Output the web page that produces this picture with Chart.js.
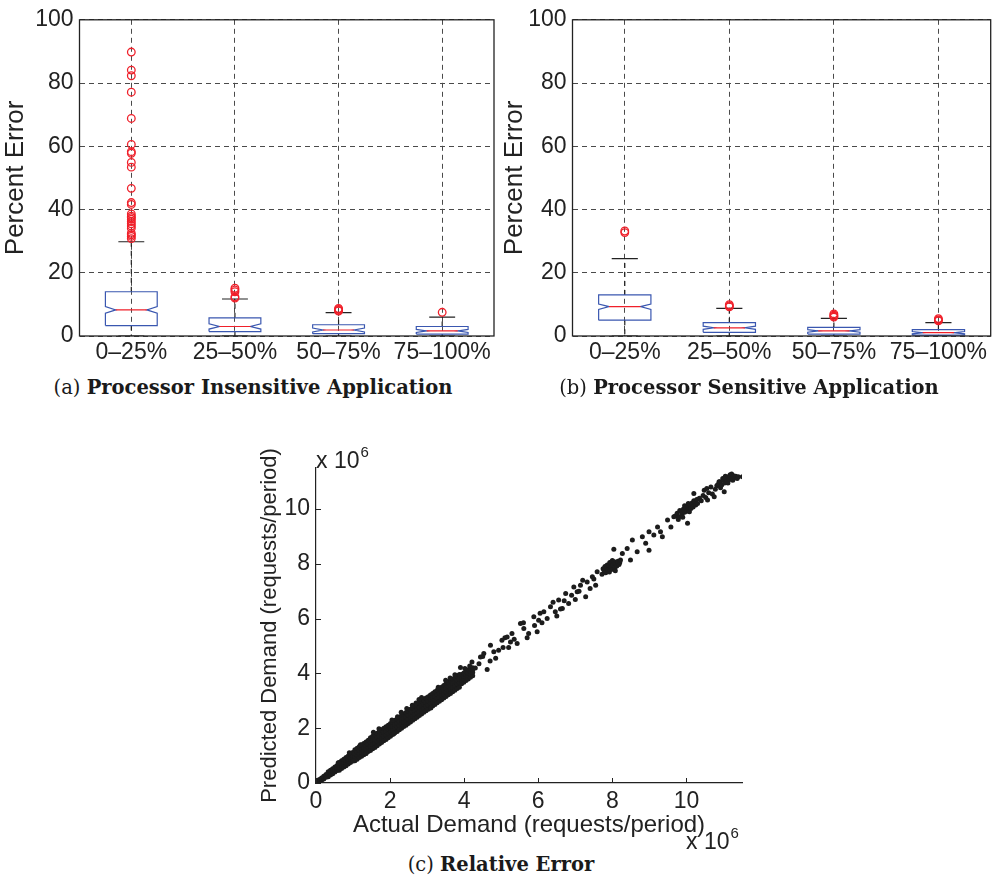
<!DOCTYPE html>
<html>
<head>
<meta charset="utf-8">
<script src="https://cdn.jsdelivr.net/npm/chart.js@4.4.1/dist/chart.umd.min.js"></script>
<style>
  body { margin: 0; background: #fff; width: 996px; height: 879px; position: relative; overflow: hidden;
         font-family: "Liberation Sans", Arial, sans-serif; color: #222; }
  canvas { position: absolute; }
  .cap { position: absolute; font-family: "DejaVu Serif", serif; font-size: 19.5px; white-space: nowrap;
         transform: translateX(-50%); line-height: 22px; color: #1a1a1a; }
  .cap b { font-weight: bold; }
  .mult { position: absolute; font-size: 23px; line-height: 23px; white-space: nowrap; }
  .mult sup { font-size: 15px; position: relative; top: -2px; margin-left: 1px; }
</style>
</head>
<body>
<canvas id="boxIns" width="500" height="372" style="left:0;top:0"></canvas>
<canvas id="boxSens" width="501" height="372" style="left:495px;top:0"></canvas>
<canvas id="demand" width="504" height="420" style="left:256px;top:420px"></canvas>

<div class="cap" style="left:253px;top:377px">(a) <b>Processor Insensitive Application</b></div>
<div class="cap" style="left:749px;top:377px">(b) <b>Processor Sensitive Application</b></div>
<div class="cap" style="left:501px;top:854px">(c) <b>Relative Error</b></div>
<div class="mult" style="left:316px;top:442px">x 10<sup>6</sup></div>
<div class="mult" style="left:686px;top:823px">x 10<sup>6</sup></div>

<script>
// ---- data ----
const categories = ["0–25%", "25–50%", "50–75%", "75–100%"];

// (a) processor insensitive application
const insQ1 = [3.3, 1.4, 0.75, 0.6];
const insMedian = [8.25, 3.0, 1.9, 1.6];
const insQ3 = [14.0, 5.75, 3.55, 3.0];
const insNotchLo = [7.2, 2.2, 1.3, 1.1];
const insNotchHi = [9.3, 3.85, 2.5, 2.1];
const insWhiskerLo = [0, 0, 0, 0];
const insWhiskerHi = [29.8, 11.7, 7.4, 5.95];
const insOutliers = [
    [89.8, 84.1, 82.3, 77.1, 68.8, 60.6, 58.3, 57.8, 54.9, 53.4, 46.7, 42.2, 41.6,
     38.6, 37.9, 37.4, 36.9, 36.2, 35.5, 34.8, 34.1, 32.5, 32.0, 31.5, 30.8],
    [15.1, 14.6, 14.0, 12.4, 12.0],
    [8.7, 8.4, 8.1, 7.9],
    [7.5],
];

// (b) processor sensitive application
const sensQ1 = [5.0, 1.15, 0.6, 0.3];
const sensMedian = [9.3, 2.6, 1.6, 1.05];
const sensQ3 = [13.0, 4.2, 2.7, 2.0];
const sensNotchLo = [8.4, 2.1, 1.2, 0.7];
const sensNotchHi = [10.1, 3.1, 2.0, 1.4];
const sensWhiskerLo = [0, 0, 0, 0];
const sensWhiskerHi = [24.5, 8.75, 5.6, 4.2];
const sensOutliers = [
    [33.2, 32.7],
    [9.9, 9.5, 9.2],
    [7.0, 6.6, 6.3, 6.0],
    [5.5, 5.1, 4.8],
];

// (c) actual vs predicted demand, in millions of requests/period
const bandActual = [0.03, 0.09, 0.15, 0.21, 0.27, 0.33, 0.39, 0.45, 0.51, 0.57, 0.63, 0.69, 0.75, 0.81,
    0.87, 0.93, 0.99, 1.05, 1.11, 1.17, 1.23, 1.29, 1.35, 1.41, 1.47, 1.53, 1.59, 1.65, 1.71, 1.77,
    1.83, 1.89, 1.95, 2.01, 2.07, 2.13, 2.19, 2.25, 2.31, 2.37, 2.43, 2.49, 2.55, 2.61, 2.67, 2.73,
    2.79, 2.85, 2.91, 2.97, 3.03, 3.09, 3.15, 3.21, 3.27, 3.33, 3.39, 3.45, 3.51, 3.57, 3.63, 3.69,
    3.75, 3.81, 3.87, 3.93, 3.99, 4.05, 4.11, 4.17, 4.23];
const bandPredLow = [0.00, 0.05, 0.10, 0.15, 0.21, 0.23, 0.29, 0.34, 0.40, 0.46, 0.47, 0.53, 0.58, 0.63,
    0.69, 0.75, 0.81, 0.81, 0.87, 0.93, 0.98, 1.03, 1.09, 1.15, 1.19, 1.25, 1.30, 1.36, 1.42, 1.48,
    1.54, 1.59, 1.65, 1.71, 1.77, 1.83, 1.88, 1.94, 2.00, 2.06, 2.11, 2.17, 2.23, 2.29, 2.35, 2.40,
    2.46, 2.52, 2.58, 2.64, 2.69, 2.75, 2.81, 2.87, 2.93, 2.98, 3.04, 3.10, 3.16, 3.22, 3.27, 3.33,
    3.39, 3.45, 3.50, 3.62, 3.68, 3.74, 3.80, 3.86, 3.92];
const bandPredMidLow = [0.02, 0.08, 0.13, 0.19, 0.25, 0.30, 0.36, 0.41, 0.47, 0.53, 0.57, 0.63, 0.68, 0.74,
    0.80, 0.86, 0.92, 0.95, 1.01, 1.07, 1.13, 1.18, 1.24, 1.30, 1.35, 1.41, 1.46, 1.52, 1.58, 1.64,
    1.70, 1.75, 1.81, 1.87, 1.93, 1.99, 2.04, 2.10, 2.16, 2.22, 2.27, 2.33, 2.39, 2.45, 2.51, 2.56,
    2.62, 2.68, 2.74, 2.80, 2.85, 2.91, 2.97, 3.03, 3.09, 3.14, 3.20, 3.26, 3.32, 3.38, 3.43, 3.49,
    3.55, 3.61, 3.66, 3.74, 3.80, 3.86, 3.92, 3.97, 4.03];
const bandPredMidHigh = [0.04, 0.10, 0.15, 0.21, 0.27, 0.34, 0.40, 0.45, 0.51, 0.57, 0.65, 0.71, 0.76, 0.82,
    0.88, 0.94, 1.00, 1.07, 1.13, 1.19, 1.25, 1.30, 1.36, 1.42, 1.49, 1.55, 1.60, 1.66, 1.72, 1.78,
    1.84, 1.89, 1.95, 2.01, 2.07, 2.13, 2.18, 2.24, 2.30, 2.36, 2.41, 2.47, 2.53, 2.59, 2.65, 2.70,
    2.76, 2.82, 2.88, 2.94, 2.99, 3.05, 3.11, 3.17, 3.23, 3.28, 3.34, 3.40, 3.46, 3.52, 3.57, 3.63,
    3.69, 3.75, 3.80, 3.84, 3.90, 3.96, 4.02, 4.07, 4.13];
const bandPredHigh = [0.07, 0.13, 0.18, 0.25, 0.31, 0.41, 0.47, 0.52, 0.58, 0.64, 0.75, 0.81, 0.87, 0.93,
    0.99, 1.05, 1.11, 1.21, 1.27, 1.33, 1.39, 1.44, 1.50, 1.56, 1.65, 1.71, 1.76, 1.82, 1.88, 1.94,
    2.00, 2.05, 2.11, 2.17, 2.23, 2.29, 2.34, 2.40, 2.46, 2.52, 2.57, 2.63, 2.69, 2.75, 2.81, 2.86,
    2.92, 2.98, 3.04, 3.10, 3.15, 3.21, 3.27, 3.33, 3.39, 3.44, 3.50, 3.56, 3.62, 3.68, 3.73, 3.79,
    3.85, 3.91, 3.96, 3.96, 4.02, 4.08, 4.13, 4.17, 4.21];
const bandStrays = [[0.9, 1.1], [1.2, 1.4], [1.55, 1.85], [1.7, 1.98], [2.05, 2.3], [2.1, 1.8],
    [2.3, 2.58], [2.45, 2.72], [2.6, 2.84], [2.78, 3.05], [2.85, 3.12], [3.1, 2.74], [3.5, 3.75],
    [3.62, 3.83], [3.9, 4.22], [4.15, 4.27], [1.35, 1.08], [0.6, 0.74], [2.7, 2.92], [3.3, 3.5],
    [1.0, 0.8], [3.75, 3.95], [4.02, 4.18], [2.2, 2.42]];
const upperDemand = [
    [4.21, 4.42], [4.3, 4.2], [4.4, 4.35], [4.44, 4.6], [4.5, 4.62], [4.53, 4.73], [4.62, 4.14],
    [4.7, 4.45], [4.71, 5.03], [4.8, 4.79], [4.85, 4.55], [4.93, 4.85], [5.02, 5.21], [5.05, 4.95],
    [5.1, 5.3], [5.16, 5.33], [5.2, 4.95], [5.25, 5.15], [5.29, 5.46], [5.35, 5.25], [5.43, 5.09],
    [5.52, 5.82], [5.6, 5.85], [5.61, 5.64], [5.7, 5.3], [5.74, 5.46], [5.88, 6.07], [5.9, 5.75],
    [5.97, 5.52], [6.01, 5.94], [6.05, 6.2], [6.1, 5.85], [6.15, 6.25], [6.24, 6.01], [6.33, 6.43],
    [6.4, 6.6], [6.46, 6.25], [6.5, 6.1], [6.55, 6.68], [6.6, 6.35], [6.65, 6.37], [6.7, 6.65],
    [6.74, 6.92], [6.82, 6.55], [6.9, 6.85], [6.96, 7.16], [7.0, 6.7], [7.05, 6.98], [7.1, 7.0],
    [7.14, 7.22], [7.2, 7.4], [7.28, 6.8], [7.32, 7.34], [7.4, 7.1], [7.46, 7.53], [7.5, 7.45],
    [7.55, 7.22], [7.59, 7.71],
    [7.72, 7.62], [7.75, 7.82], [7.78, 7.75], [7.8, 7.9], [7.82, 7.68], [7.84, 7.72], [7.85, 7.85],
    [7.86, 7.96], [7.88, 7.78], [7.9, 7.95], [7.92, 7.7], [7.93, 8.05], [7.95, 7.88], [7.96, 7.8],
    [7.97, 8.02], [7.98, 7.92], [8.0, 7.8], [8.0, 8.12], [8.02, 7.95], [8.05, 8.08], [8.06, 8.0],
    [8.07, 7.86], [8.08, 7.75], [8.1, 8.0], [8.12, 7.92], [8.14, 8.02], [8.15, 8.1], [8.18, 7.98],
    [8.2, 8.05], [8.22, 8.14],
    [8.04, 8.53], [8.27, 8.38], [8.4, 8.56], [8.49, 8.14], [8.54, 8.87], [8.67, 8.44], [8.81, 8.99],
    [8.9, 8.75], [8.99, 8.5], [8.99, 9.17], [9.12, 9.05], [9.22, 9.35], [9.3, 9.17], [9.35, 8.99],
    [9.49, 9.6], [9.58, 9.35], [9.66, 9.72],
    [9.7, 9.75], [9.75, 9.85], [9.78, 9.62], [9.8, 9.72], [9.82, 9.95], [9.85, 9.92], [9.88, 9.8],
    [9.9, 9.7], [9.92, 10.0], [9.95, 9.88], [9.95, 10.12], [9.98, 10.05], [10.0, 9.92], [10.03, 10.1],
    [10.03, 9.48], [10.05, 10.2], [10.06, 9.98], [10.08, 9.9], [10.1, 10.15], [10.12, 10.02],
    [10.15, 10.22], [10.18, 10.08], [10.2, 10.3], [10.2, 10.57], [10.22, 10.28], [10.25, 10.15],
    [10.28, 10.35], [10.3, 10.2], [10.35, 10.4], [10.4, 10.3],
    [10.45, 10.5], [10.48, 10.69], [10.52, 10.42], [10.55, 10.75], [10.57, 10.33], [10.6, 10.6],
    [10.66, 10.81], [10.7, 10.55], [10.75, 10.45], [10.78, 10.72], [10.82, 10.85], [10.88, 11.0],
    [10.92, 10.78], [11.02, 10.63],
    [10.85, 10.9], [10.9, 11.0], [10.95, 10.88], [10.98, 11.12], [11.0, 11.05], [11.03, 10.95],
    [11.05, 11.2], [11.07, 11.12], [11.1, 11.02], [11.12, 10.95], [11.13, 11.18], [11.16, 11.08],
    [11.18, 11.25], [11.2, 11.2], [11.22, 11.28], [11.23, 11.1], [11.25, 11.05], [11.27, 11.22],
    [11.3, 11.15], [11.33, 11.2], [11.37, 11.12], [11.4, 11.18], [11.51, 11.18],
];
const demandTicks = [0, 2, 4, 6, 8, 10];
const percentTicks = [0, 20, 40, 60, 80, 100];

// ---- styling ----
const fontFamily = "'Liberation Sans', Arial, sans-serif";
const tickFont = { family: fontFamily, size: 23 };
const boxTitleFont = { family: fontFamily, size: 26 };
const ink = "#222";
const boxBlue = "#3a57b0";
const medianRed = "#f0202a";

// outline of each notched box, whiskers, caps, medians, outliers as line/scatter datasets
function boxPlotDatasets(q1, med, q3, nLo, nHi, wLo, wHi, outliers) {
    const outline = [], medians = [], whiskers = [], caps = [], dots = [];
    for (let i = 0; i < q1.length; i++) {
        const c = i + 1;
        outline.push(
            { x: c - 0.25, y: q1[i] }, { x: c - 0.25, y: nLo[i] }, { x: c - 0.15, y: med[i] },
            { x: c - 0.25, y: nHi[i] }, { x: c - 0.25, y: q3[i] }, { x: c + 0.25, y: q3[i] },
            { x: c + 0.25, y: nHi[i] }, { x: c + 0.15, y: med[i] }, { x: c + 0.25, y: nLo[i] },
            { x: c + 0.25, y: q1[i] }, { x: c - 0.25, y: q1[i] }, { x: c, y: null }
        );
        medians.push({ x: c - 0.15, y: med[i] }, { x: c + 0.15, y: med[i] }, { x: c, y: null });
        whiskers.push({ x: c, y: q3[i] }, { x: c, y: wHi[i] }, { x: c, y: null },
                      { x: c, y: q1[i] }, { x: c, y: wLo[i] }, { x: c, y: null });
        caps.push({ x: c - 0.125, y: wHi[i] }, { x: c + 0.125, y: wHi[i] }, { x: c, y: null },
                  { x: c - 0.125, y: wLo[i] }, { x: c + 0.125, y: wLo[i] }, { x: c, y: null });
        outliers[i].forEach((v) => dots.push({ x: c, y: v }));
    }
    const line = (data, color, extra) => Object.assign({
        data, showLine: true, borderColor: color, borderWidth: 1.2, pointRadius: 0,
        pointHoverRadius: 0, spanGaps: false, fill: false,
    }, extra);
    return [
        {
            data: dots, pointStyle: "circle", pointRadius: 3.8, pointBorderWidth: 1.3,
            borderColor: medianRed, backgroundColor: "rgba(0,0,0,0)", order: 0,
        },
        line(medians, medianRed, { order: 1 }),
        line(outline, boxBlue, { order: 2 }),
        line(caps, ink, { order: 3 }),
        line(whiskers, ink, { order: 4, borderDash: [5, 4] }),
    ];
}

const boxFrame = {
    id: "boxFrame",
    afterDraw(chart) {
        const { ctx, chartArea: a } = chart;
        ctx.save();
        ctx.setLineDash([]);
        ctx.strokeStyle = ink;
        ctx.lineWidth = 1.3;
        ctx.strokeRect(a.left, a.top, a.right - a.left, a.bottom - a.top);
        ctx.restore();
    },
};

function renderBoxChart(canvasId, datasets, yAxisWidth, titlePad, padRight) {
    const ctx = document.getElementById(canvasId).getContext("2d");
    return new Chart(ctx, {
        type: "scatter",
        data: { datasets },
        options: {
            responsive: false,
            animation: false,
            events: [],
            layout: { padding: { top: 15, right: padRight, left: 0, bottom: 0 } },
            plugins: { legend: { display: false }, tooltip: { enabled: false } },
            scales: {
                x: {
                    type: "linear", min: 0.5, max: 4.5,
                    afterBuildTicks: (s) => { s.ticks = [1, 2, 3, 4].map((v) => ({ value: v })); },
                    afterFit: (s) => { s.height = 36; },
                    ticks: { color: ink, font: tickFont, padding: 3, maxRotation: 0, autoSkip: false,
                             callback: (v) => categories[v - 1] },
                    grid: { color: "#4a4a4a", lineWidth: 1, drawTicks: false },
                    border: { display: false, dash: [5, 4] },
                },
                y: {
                    min: 0, max: 100,
                    afterBuildTicks: (s) => { s.ticks = percentTicks.map((v) => ({ value: v })); },
                    afterFit: (s) => { s.width = yAxisWidth; },
                    ticks: { color: ink, font: tickFont, padding: 6 },
                    grid: { color: "#4a4a4a", lineWidth: 1, drawTicks: false },
                    border: { display: false, dash: [5, 4] },
                    title: { display: true, text: "Percent Error", color: ink, font: boxTitleFont,
                             padding: { top: titlePad, bottom: 0 } },
                },
            },
        },
        plugins: [boxFrame],
    });
}

renderBoxChart("boxIns",
    boxPlotDatasets(insQ1, insMedian, insQ3, insNotchLo, insNotchHi, insWhiskerLo, insWhiskerHi, insOutliers),
    79.5, 0, 6);
renderBoxChart("boxSens",
    boxPlotDatasets(sensQ1, sensMedian, sensQ3, sensNotchLo, sensNotchHi, sensWhiskerLo, sensWhiskerHi, sensOutliers),
    77.5, 4, 5);

// ---- (c) scatter ----
const demandPoints = [];
bandActual.forEach((x, i) => {
    demandPoints.push({ x, y: bandPredLow[i] }, { x, y: bandPredMidLow[i] },
                      { x, y: bandPredMidHigh[i] }, { x, y: bandPredHigh[i] });
});
bandStrays.concat(upperDemand).forEach(([x, y]) => demandPoints.push({ x, y }));

const innerTicks = {
    id: "innerTicks",
    afterDraw(chart) {
        const { ctx, chartArea: a, scales: { x, y } } = chart;
        ctx.save();
        ctx.strokeStyle = ink;
        ctx.lineWidth = 1;
        ctx.beginPath();
        x.ticks.forEach((t) => {
            const px = Math.round(x.getPixelForValue(t.value)) + 0.5;
            ctx.moveTo(px, a.bottom);
            ctx.lineTo(px, a.bottom - 5);
        });
        y.ticks.forEach((t) => {
            const py = Math.round(y.getPixelForValue(t.value)) + 0.5;
            ctx.moveTo(a.left, py);
            ctx.lineTo(a.left + 5, py);
        });
        ctx.stroke();
        ctx.restore();
    },
};

new Chart(document.getElementById("demand").getContext("2d"), {
    type: "scatter",
    data: {
        datasets: [{
            data: demandPoints,
            pointRadius: 2.5,
            pointBorderWidth: 0,
            backgroundColor: "#1c1c1c",
            borderColor: "#1c1c1c",
        }],
    },
    options: {
        responsive: false,
        animation: false,
        events: [],
        layout: { padding: { top: 48, right: 18, left: 0, bottom: 0 } },
        plugins: { legend: { display: false }, tooltip: { enabled: false } },
        scales: {
            x: {
                min: 0, max: 11.5,
                afterBuildTicks: (s) => { s.ticks = demandTicks.map((v) => ({ value: v })); },
                afterFit: (s) => { s.height = 57; },
                ticks: { color: ink, font: tickFont, padding: 5, maxRotation: 0 },
                grid: { display: false, drawTicks: false },
                border: { display: true, color: ink, width: 1.2 },
                title: { display: true, text: "Actual Demand (requests/period)", color: ink,
                         font: { family: fontFamily, size: 24 }, padding: { top: 0, bottom: 0 } },
            },
            y: {
                min: 0, max: 11.5,
                afterBuildTicks: (s) => { s.ticks = demandTicks.map((v) => ({ value: v })); },
                afterFit: (s) => { s.width = 60; },
                ticks: { color: ink, font: tickFont, padding: 6 },
                grid: { display: false, drawTicks: false },
                border: { display: true, color: ink, width: 1.2 },
                title: { display: true, text: "Predicted Demand (requests/period)", color: ink,
                         font: { family: fontFamily, size: 22 }, padding: { top: 1, bottom: 0 } },
            },
        },
    },
    plugins: [innerTicks],
});
</script>
</body>
</html>
